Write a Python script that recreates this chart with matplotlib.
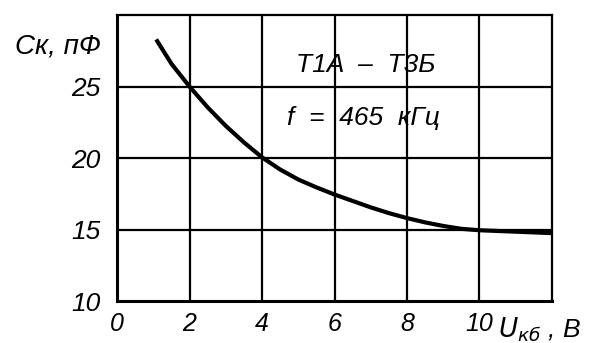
import matplotlib
matplotlib.use("Agg")
import matplotlib.pyplot as plt

# data
u_kb = [1.08, 1.5, 2.0, 2.5, 3.0, 3.5, 4.0, 4.5, 5.0, 5.5, 6.0, 6.5, 7.0,
        7.5, 8.0, 8.5, 9.0, 9.5, 10.0, 11.0, 12.0]
c_k = [28.3, 26.6, 25.0, 23.55, 22.25, 21.1, 20.05, 19.2, 18.5, 17.95, 17.45,
       17.0, 16.55, 16.15, 15.8, 15.5, 15.25, 15.05, 14.95, 14.85, 14.75]

x_ticks = [0, 2, 4, 6, 8, 10]
y_ticks = [10, 15, 20, 25]
x_grid = [2, 4, 6, 8, 10]
y_grid = [15, 20, 25]

plt.rcParams['font.family'] = ['Liberation Sans', 'DejaVu Sans']
plt.rcParams['font.style'] = 'italic'

fig = plt.figure(figsize=(5.91, 3.43), dpi=100)
ax = fig.add_axes([0.198, 0.1224, 0.736, 0.8336])

for xv in x_grid:
    ax.axvline(xv, color='black', lw=1.6, zorder=1)
for yv in y_grid:
    ax.axhline(yv, color='black', lw=1.6, zorder=1)

ax.plot(u_kb, c_k, color='black', lw=3.0, solid_capstyle='butt',
        solid_joinstyle='round', zorder=3)

ax.set_xlim(0, 12)
ax.set_ylim(10, 30)
for side in ['left', 'bottom']:
    ax.spines[side].set_linewidth(2.2)
for side in ['top', 'right']:
    ax.spines[side].set_linewidth(1.6)

ax.set_xticks(x_ticks)
ax.set_yticks(y_ticks)
ax.set_xticklabels([str(t) for t in x_ticks], fontsize=18, style='italic')
ax.set_yticklabels([str(t) for t in y_ticks], fontsize=19, style='italic')
ax.tick_params(axis='x', length=0, pad=8)
ax.tick_params(axis='y', length=0, pad=12)
# the "10" label sits a little left of its grid line in the original
ax.get_xticklabels()[-1].set_x(9.8)

ax.text(6.85, 26.5, 'T1A  –  T3Б', fontsize=19, style='italic', ha='center', va='center')
ax.text(6.8, 22.8, 'f  =  465  кГц', fontsize=19, style='italic', ha='center', va='center')

fig.text(0.025, 0.865, 'Cк, пФ', fontsize=20, style='italic', ha='left', va='center')
fig.text(0.842, 0.04, r'$U_{кб}$ , В', fontsize=19, style='italic', ha='left', va='center')

fig.savefig('out.png', dpi=100)
